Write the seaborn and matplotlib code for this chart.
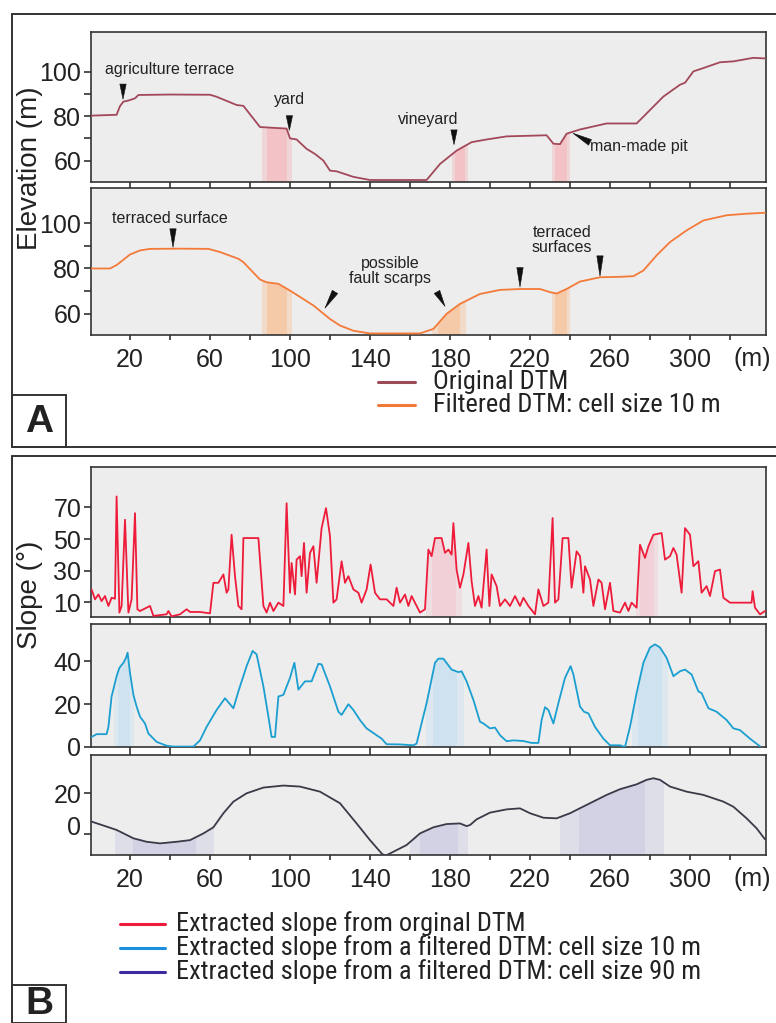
import numpy as np
import pandas as pd
import matplotlib
matplotlib.use("Agg")
import matplotlib.pyplot as plt
import matplotlib.transforms as mtransforms
from matplotlib import font_manager
import seaborn as sns
from matplotlib.lines import Line2D
from matplotlib.patches import Rectangle

# ---------------- profile data (distance in m) ----------------
orig_x = [0, 13.3, 15, 16.7, 19.2, 22.5, 24.2, 40, 60, 63.3, 73.3, 76.7, 85, 98.3, 100,
          103.3, 108.3, 112.5, 116.7, 120, 123.3, 131.7, 140, 168.3, 175, 183.3, 190.8,
          198.3, 208.3, 228.3, 231.7, 235, 238.3, 245, 258.3, 273.3, 278.3, 286.7, 295,
          297.5, 301.7, 306.7, 315, 321.7, 331.7, 338]
orig_z = [80.2, 80.6, 84.5, 86.5, 87, 88, 89.5, 89.7, 89.6, 88.7, 85, 84.6, 75.1, 74.4, 70,
          69.5, 65.3, 63, 60, 55.5, 55.2, 52.7, 51.3, 51.3, 58.5, 64.5, 68.3, 69.5, 70.9, 71.4,
          67.6, 67.4, 72.1, 74, 76.7, 76.7, 81.2, 88.8, 94.1, 95, 100.1, 101.6, 104.2,
          104.6, 106.2, 105.9]

filt_x = [0, 10, 13.3, 20, 25, 30, 45, 59.2, 65, 74.2, 76.7, 85, 88.3, 94.2, 100, 111.7,
          120, 125, 131.7, 140, 165, 171.7, 178.3, 185, 195, 205, 215, 225, 230, 233.3,
          238.3, 245, 255, 265, 271.7, 276.7, 283.3, 290, 298.3, 306.7, 318.3, 328.3, 337.5]
filt_z = [80, 80, 81.5, 86.2, 88, 88.7, 88.8, 88.7, 87.3, 84.3, 82.8, 75.1, 73.9, 73.2,
          70.2, 63.6, 57.6, 54.7, 52.4, 51.2, 51.2, 53.2, 59.9, 64.3, 68.7, 70.5, 70.9, 70.9,
          69.5, 68.9, 70.9, 74.2, 76.1, 76.3, 76.6, 79.1, 85.8, 91.7, 96.9, 101.3, 103.6,
          104.3, 104.7]

slope_orig_x = [0.8, 2.5, 4.2, 5.8, 7.5, 9.2, 10.8, 12.5, 13.3, 14.7, 15.8, 17.5, 19.2, 20.8,
                22.5, 23.7, 25, 30, 31.7, 38.3, 39.2, 40.8, 45, 48.3, 50, 55, 60, 61.7, 64.2,
                66.7, 68.3, 69.2, 70.8, 72.5, 74.2, 75.8, 76.7, 84.2, 86.7, 88.3, 90, 91.7,
                94.2, 96.7, 98.3, 100, 100.8, 102.5, 103.3, 105, 105.8, 107, 108.3, 110,
                111.7, 113.3, 115.8, 118, 120, 121.7, 123.3, 125.8, 127.5, 129.2, 131.7,
                134.2, 135.8, 138.3, 140.3, 142.5, 145, 148.3, 151.7, 153.3, 155, 157.5,
                159.2, 160.8, 163.3, 165, 167.5, 169.2, 170.8, 172.5, 175.8, 177.5, 179.2,
                180.8, 181.7, 183.3, 185, 186.7, 189.2, 190.8, 192.5, 194.2, 195.8, 198.3,
                199.7, 200.8, 203.3, 205, 207.5, 210, 212.5, 215, 216.7, 219.2, 222.5, 224.2,
                226.7, 229.2, 231.3, 232.5, 234.2, 236.3, 239.2, 240.8, 243.3, 245, 246.7,
                247.5, 250, 251.7, 254.2, 255.8, 257.5, 260, 261.7, 265, 267.5, 269.2, 270.8,
                273.3, 275, 277.5, 279.2, 281.7, 285.8, 287.5, 290, 291.7, 293.3, 295.8,
                297.5, 300, 301.7, 304.2, 305.8, 308.3, 310, 312.5, 315, 316.7, 320, 330.8,
                331.3, 332.5, 335, 337.5]
slope_orig = [18.0, 11.7, 14.8, 10.6, 13.8, 7.5, 12.7, 12.1, 77.0, 3.3, 7.5, 62.2, 3.3, 11.7,
              66.4, 5.4, 4.3, 7.5, 1.2, 2.2, 4.3, 0.9, 2.2, 5.4, 3.7, 3.7, 2.8, 22.2, 22.2,
              27.5, 15.9, 18.0, 52.7, 26.4, 7.5, 5.4, 50.6, 50.6, 7.5, 3.3, 9.6, 4.3, 9.6,
              7.5, 72.7, 15.9, 34.8, 14.8, 36.9, 39.1, 26.4, 47.5, 15.9, 41.2, 45.4, 22.2,
              56.9, 69.6, 51.7, 9.6, 11.7, 35.9, 22.2, 26.4, 18.0, 15.9, 9.6, 18.0, 33.8,
              15.9, 11.7, 11.7, 7.5, 19.1, 9.6, 14.8, 7.5, 13.8, 7.5, 3.3, 5.4, 43.3, 39.1,
              50.6, 50.6, 41.2, 43.3, 40.1, 60.1, 30.6, 19.1, 27.5, 47.5, 23.3, 7.5, 13.8,
              6.4, 43.3, 7.5, 27.5, 20.1, 7.5, 11.7, 7.5, 13.8, 7.5, 12.7, 7.5, 2.2, 18.0,
              7.5, 9.6, 63.3, 9.6, 11.7, 50.6, 50.6, 19.1, 42.2, 39.1, 15.9, 32.7, 24.3, 7.5,
              24.3, 22.2, 5.4, 22.2, 4.3, 3.3, 9.6, 4.3, 9.6, 6.4, 46.4, 38.0, 45.4, 52.7,
              53.8, 36.9, 39.1, 44.3, 40.1, 15.9, 56.9, 52.7, 32.7, 35.9, 15.9, 20.1, 13.8,
              29.6, 30.6, 12.7, 9.6, 9.6, 16.9, 6.4, 2.2, 4.3]

slope_f10_x = [0.8, 3.3, 8.3, 9.2, 10.8, 13.3, 14.7, 16.7, 18, 18.8, 20, 21.7, 23.3, 25, 27.5,
               29.2, 33.3, 38.3, 41.7, 51.7, 55, 58.3, 63.3, 67.5, 71.7, 74.2, 78.3, 81.3,
               83.3, 86.7, 89.2, 90.8, 92.5, 94.2, 96.7, 100, 102.2, 104.2, 107.5, 110.8,
               114.2, 115.8, 120, 124.2, 125.8, 129.2, 131.7, 135, 138.3, 143.3, 145.8,
               148.3, 155, 161.7, 163.3, 168.3, 172.5, 174.2, 176.7, 180.8, 184.2, 185.8,
               188.3, 191.7, 195, 196.7, 200, 202.5, 205, 208.3, 211.7, 216.7, 220.8, 224.2,
               225.8, 227.5, 229.2, 231.7, 234.2, 237.5, 240.3, 241.7, 245, 247, 249.2,
               252.5, 256.7, 260, 265, 267.5, 270, 273.3, 276.7, 280, 282.5, 285, 288.3,
               291.7, 295, 297.5, 300.8, 304.2, 305.8, 309.2, 313.3, 318.3, 321.7, 325, 330,
               335]
slope_f10 = [4.7, 6.0, 6.0, 9.4, 23.6, 33.1, 37.0, 39.4, 41.7, 44.1, 34.6, 24.4, 18.9, 14.2,
             11.0, 6.3, 2.4, 0.6, 0.2, 0.2, 3.1, 9.4, 17.3, 22.8, 18.1, 26.0, 37.8, 44.9,
             43.3, 28.3, 14.2, 4.7, 4.7, 23.6, 24.4, 32.3, 39.4, 26.8, 30.7, 30.7, 38.9, 38.6,
             28.3, 16.5, 15.0, 20.0, 17.3, 12.6, 8.7, 5.5, 3.9, 1.3, 1.2, 0.8, 1.6, 20.5,
             39.4, 41.3, 41.3, 36.2, 35.0, 35.4, 30.7, 22.0, 11.8, 11.0, 8.7, 9.1, 5.5, 2.7,
             3.1, 2.8, 1.9, 1.9, 12.6, 18.6, 17.3, 11.0, 20.5, 32.3, 37.8, 33.9, 18.9, 16.5,
             15.7, 9.4, 3.9, 0.8, 0.8, 0.0, 9.4, 25.2, 39.4, 46.5, 48.0, 46.5, 41.7, 33.1,
             35.4, 36.2, 33.9, 26.0, 25.2, 18.1, 16.5, 12.6, 8.7, 7.9, 3.9, 0.3]

slope_f90_x = [0.8, 13.3, 21.7, 28.3, 35, 43.3, 50, 56.7, 61.7, 66.7, 71.7, 78.3, 86.7, 96.7,
               105, 115, 125, 133.3, 140, 145.8, 147.5, 151.7, 158.3, 165, 171.7, 178.3, 185,
               188.3, 190, 193.3, 200, 208.3, 215, 220, 226.7, 233.3, 240, 248.3, 258.3, 265,
               273.3, 278.3, 281.7, 285, 290, 298.3, 306.7, 316.7, 321.7, 328.3, 333.3, 337.5]
slope_f90 = [6.1, 2.0, -2.1, -3.8, -4.6, -3.8, -3.0, 0.3, 3.3, 10.2, 15.9, 20.0, 22.8, 23.8,
             23.3, 20.8, 15.1, 5.2, -3.0, -9.5, -10.8, -8.7, -5.4, 0.3, 3.3, 4.9, 5.2, 3.9,
             4.4, 7.2, 10.5, 12.1, 12.6, 10.2, 8.0, 7.7, 10.2, 14.3, 19.2, 22.0, 24.4, 26.6,
             27.4, 26.6, 23.3, 20.8, 19.2, 15.9, 13.4, 7.7, 2.8, -2.6]

# highlighted stretches along the profile (m)
bands_orig = [(86, 101), (181, 189), (231, 240)]
bands_filt = [(86, 101), (171, 188), (231, 240)]
bands_red = [(168, 186), (273, 284)]
bands_blue = [(12, 22), (168, 187), (271, 289)]
bands_purple = [(12.5, 62), (160, 189), (235, 287)]

xtick_vals = list(range(20, 321, 20))
xtick_labels = [str(v) if (v - 20) % 40 == 0 and v <= 300 else "" for v in xtick_vals]

legend_a = ["Original DTM", "Filtered DTM: cell size 10 m"]
legend_b = ["Extracted slope from orginal DTM",
            "Extracted slope from a filtered DTM: cell size 10 m",
            "Extracted slope from a filtered DTM: cell size 90 m"]

# ---------------- styling ----------------
sns.set_theme(style="white")
plt.rcParams["font.family"] = ["Liberation Sans", "DejaVu Sans"]


def condensed_face():
    """Return a regular-weight narrow/condensed sans face if one is installed."""
    prefs = ["liberation sans narrow", "arial narrow", "noto sans", "roboto",
             "open sans", "dejavu sans"]
    found = []
    for f in font_manager.fontManager.ttflist:
        path = f.fname.lower()
        name = f.name.lower()
        narrow = ("narrow" in name or "narrow" in path or "condensed" in path
                  or str(f.stretch).lower() in ("condensed", "semi-condensed"))
        if not narrow or "mono" in path or "serif" in path and "sans" not in path:
            continue
        if any(k in path for k in ("bold", "italic", "oblique", "light", "thin", "black",
                                   "medium", "semi", "extra")):
            continue
        if f.style != "normal":
            continue
        rank = next((i for i, p in enumerate(prefs) if name.startswith(p)), len(prefs))
        found.append((rank, f.fname))
    if not found:
        return None
    found.sort()
    return found[0][1]


NARROW_PATH = condensed_face()

W, H = 776, 1023
fig = plt.figure(figsize=(W / 100, H / 100), dpi=100)
fig.patch.set_facecolor("white")

INK = "#333333"
TXT = "#222222"
PT = 0.72  # points per pixel at 100 dpi
XLIM = (0.5, 338)


def px_axes(x0, y0, x1, y1):
    return fig.add_axes([x0 / W, 1 - y1 / H, (x1 - x0) / W, (y1 - y0) / H])


def style_axes(ax, ylim, yticks, ylabels, xtick_len, show_xlabels):
    ax.set_facecolor("#ededed")
    ax.set_xlim(*XLIM)
    ax.set_ylim(*ylim)
    for s in ax.spines.values():
        s.set_color(INK)
        s.set_linewidth(1.2)
        s.set_visible(True)
    ax.set_yticks(yticks)
    ax.set_yticklabels(ylabels)
    ax.set_xticks(xtick_vals)
    ax.set_xticklabels(xtick_labels if show_xlabels else [""] * len(xtick_vals))
    ax.tick_params(axis="y", left=True, direction="out", length=7 * PT, width=1.2,
                   color=INK, labelsize=18, pad=2, labelcolor=TXT)
    ax.tick_params(axis="x", bottom=True, direction="out", length=xtick_len * PT, width=1.2,
                   color=INK, labelsize=18, pad=6, labelcolor=TXT)


def shade_under(ax, x, y, bands, color, alpha):
    base = ax.get_ylim()[0] - 50
    poly = ax.fill_between(x, y, base, color="none", lw=0)
    clip = poly.get_paths()[0]
    for a, b in bands:
        w = b - a
        for inset, al in [(0.0, alpha * 0.45), (0.18, alpha * 0.55)]:
            span = ax.axvspan(a + inset * w, b - inset * w, color=color, alpha=al, lw=0,
                              zorder=1)
            span.set_clip_path(clip, ax.transData)


def draw_curve(ax, x, y, color):
    df = pd.DataFrame({"distance": x, "value": y})
    sns.lineplot(data=df, x="distance", y="value", ax=ax, color=color, lw=1.3,
                 estimator=None, sort=False, zorder=3)
    ax.set_xlabel("")
    ax.set_ylabel("")


def mark(ax, tip, tail):
    ax.annotate("", xy=tip, xytext=tail, xycoords="data", textcoords="data",
                arrowprops=dict(arrowstyle="wedge,tail_width=0.38,shrink_factor=0.5",
                                fc="#111111", ec="#111111", lw=0.4, shrinkA=0, shrinkB=0),
                zorder=5, annotation_clip=False)


def m_label(ax):
    ax.annotate("(m)", xy=(331, 0), xycoords=("data", "axes fraction"),
                xytext=(0, -17), textcoords="offset points", ha="center", va="center",
                fontsize=18, color=TXT)


C_ORIG = "#a3485a"
C_FILT = "#f47a3a"
C_RED = "#ee1c3a"
C_BLUE = "#1a9fd0"
C_PURP_LINE = "#3a3a48"
C_PURP_KEY = "#3e2aa0"

# ---------------- panel A ----------------
ax1 = px_axes(91, 32, 766, 182)
style_axes(ax1, (50.4, 117.8), [60, 70, 80, 90, 100], ["60", "", "80", "", "100"], 6, False)
shade_under(ax1, orig_x, orig_z, bands_orig, "#f7a8b0", 0.75)
draw_curve(ax1, orig_x, orig_z, C_ORIG)
ann = dict(fontsize=11.5, color=TXT, ha="center", va="center")
ax1.text(40, 101, "agriculture terrace", **ann)
mark(ax1, (16.5, 87.6), (16.5, 94.4))
ax1.text(100, 87.6, "yard", **ann)
mark(ax1, (99.7, 73.6), (99.7, 80.2))
ax1.text(169, 78.7, "vineyard", **ann)
mark(ax1, (182, 67.2), (182, 73.8))
ax1.text(250, 66.5, "man-made pit", fontsize=11.5, color=TXT, ha="left", va="center")
mark(ax1, (241.5, 72.3), (250, 68.2))

ax2 = px_axes(91, 188, 766, 335)
style_axes(ax2, (50.5, 115.7), [60, 70, 80, 90, 100], ["60", "", "80", "", "100"], 5, True)
shade_under(ax2, filt_x, filt_z, bands_filt, "#fbb57e", 0.75)
draw_curve(ax2, filt_x, filt_z, C_FILT)
m_label(ax2)
ax2.text(40, 102.2, "terraced surface", **ann)
mark(ax2, (41.5, 89.4), (41.5, 97.6))
ax2.text(150, 79, "possible\nfault scarps", linespacing=1.0, **ann)
mark(ax2, (117.5, 62.4), (122.5, 69.6))
mark(ax2, (177.5, 63.2), (173.5, 69.6))
ax2.text(236, 92.6, "terraced\nsurfaces", linespacing=1.0, **ann)
mark(ax2, (215, 71.8), (215, 80.4))
mark(ax2, (255, 76.6), (255, 85.6))

# ---------------- panel B ----------------
ax3 = px_axes(91, 467, 766, 617)
style_axes(ax3, (0.5, 95.7), [10, 30, 50, 70], ["10", "30", "50", "70"], 7, False)
shade_under(ax3, slope_orig_x, slope_orig, bands_red, "#f7b8c4", 0.6)
draw_curve(ax3, slope_orig_x, slope_orig, C_RED)

ax4 = px_axes(91, 624, 766, 747)
style_axes(ax4, (0, 57.5), [0, 20, 40], ["0", "20", "40"], 8, False)
shade_under(ax4, slope_f10_x, slope_f10, bands_blue, "#b8dcf4", 0.7)
draw_curve(ax4, slope_f10_x, slope_f10, C_BLUE)

ax5 = px_axes(91, 755, 766, 855)
style_axes(ax5, (-10.3, 38.8), [0, 20], ["0", "20"], 5, True)
shade_under(ax5, slope_f90_x, slope_f90, bands_purple, "#c0c0e0", 0.7)
draw_curve(ax5, slope_f90_x, slope_f90, C_PURP_LINE)
m_label(ax5)
# lift the "0" label slightly above its tick
lbl0 = ax5.get_yticklabels()[0]
lbl0.set_transform(lbl0.get_transform()
                   + mtransforms.ScaledTranslation(0, 9 / 100, fig.dpi_scale_trans))

# ---------------- y axis titles ----------------
fig.text(30 / W, 1 - 168 / H, "Elevation (m)", rotation=90, ha="center", va="center",
         fontsize=20, color=TXT)
fig.text(30 / W, 1 - 595 / H, "Slope (°)", rotation=90, ha="center", va="center",
         fontsize=20, color=TXT)

# ---------------- legends ----------------
if NARROW_PATH:
    LEG_FP = font_manager.FontProperties(fname=NARROW_PATH, size=19)
else:
    LEG_FP = font_manager.FontProperties(family=["Liberation Sans", "DejaVu Sans"], size=16.5)


def legend_rows(x_line0, x_line1, x_text, ys, colors, labels):
    for y, c, lab in zip(ys, colors, labels):
        fig.add_artist(Line2D([x_line0 / W, x_line1 / W], [1 - y / H, 1 - y / H],
                              color=c, lw=2.2, transform=fig.transFigure))
        fig.text(x_text / W, 1 - y / H, lab, ha="left", va="center",
                 fontproperties=LEG_FP, color=TXT)


legend_rows(378, 415, 433, [382, 405], ["#9c4a55", "#f07a3a"], legend_a)
legend_rows(120, 165, 176, [924, 948, 972], [C_RED, "#1c8fdc", C_PURP_KEY], legend_b)


# ---------------- panel frames and letters ----------------
def fline(xs, ys, lw=1.4):
    fig.add_artist(Line2D([x / W for x in xs], [1 - y / H for y in ys], color=INK, lw=lw,
                          transform=fig.transFigure))


fline([12, 776], [14, 14])
fline([12, 12], [14, 447])
fline([12, 776], [447, 447])
fline([12, 776], [456, 456])
fline([12, 12], [456, 1023])

for (y0, y1, letter, yc) in [(395, 447, "A", 422), (985, 1023, "B", 1004)]:
    fig.add_artist(Rectangle((12 / W, 1 - y1 / H), 54 / W, (y1 - y0) / H, fill=False,
                             ec=INK, lw=1.4, transform=fig.transFigure))
    fig.text(39 / W, 1 - yc / H, letter, ha="center", va="center", fontsize=28,
             fontweight="bold", color=TXT)

fig.savefig("out.png", dpi=100, facecolor="white")
